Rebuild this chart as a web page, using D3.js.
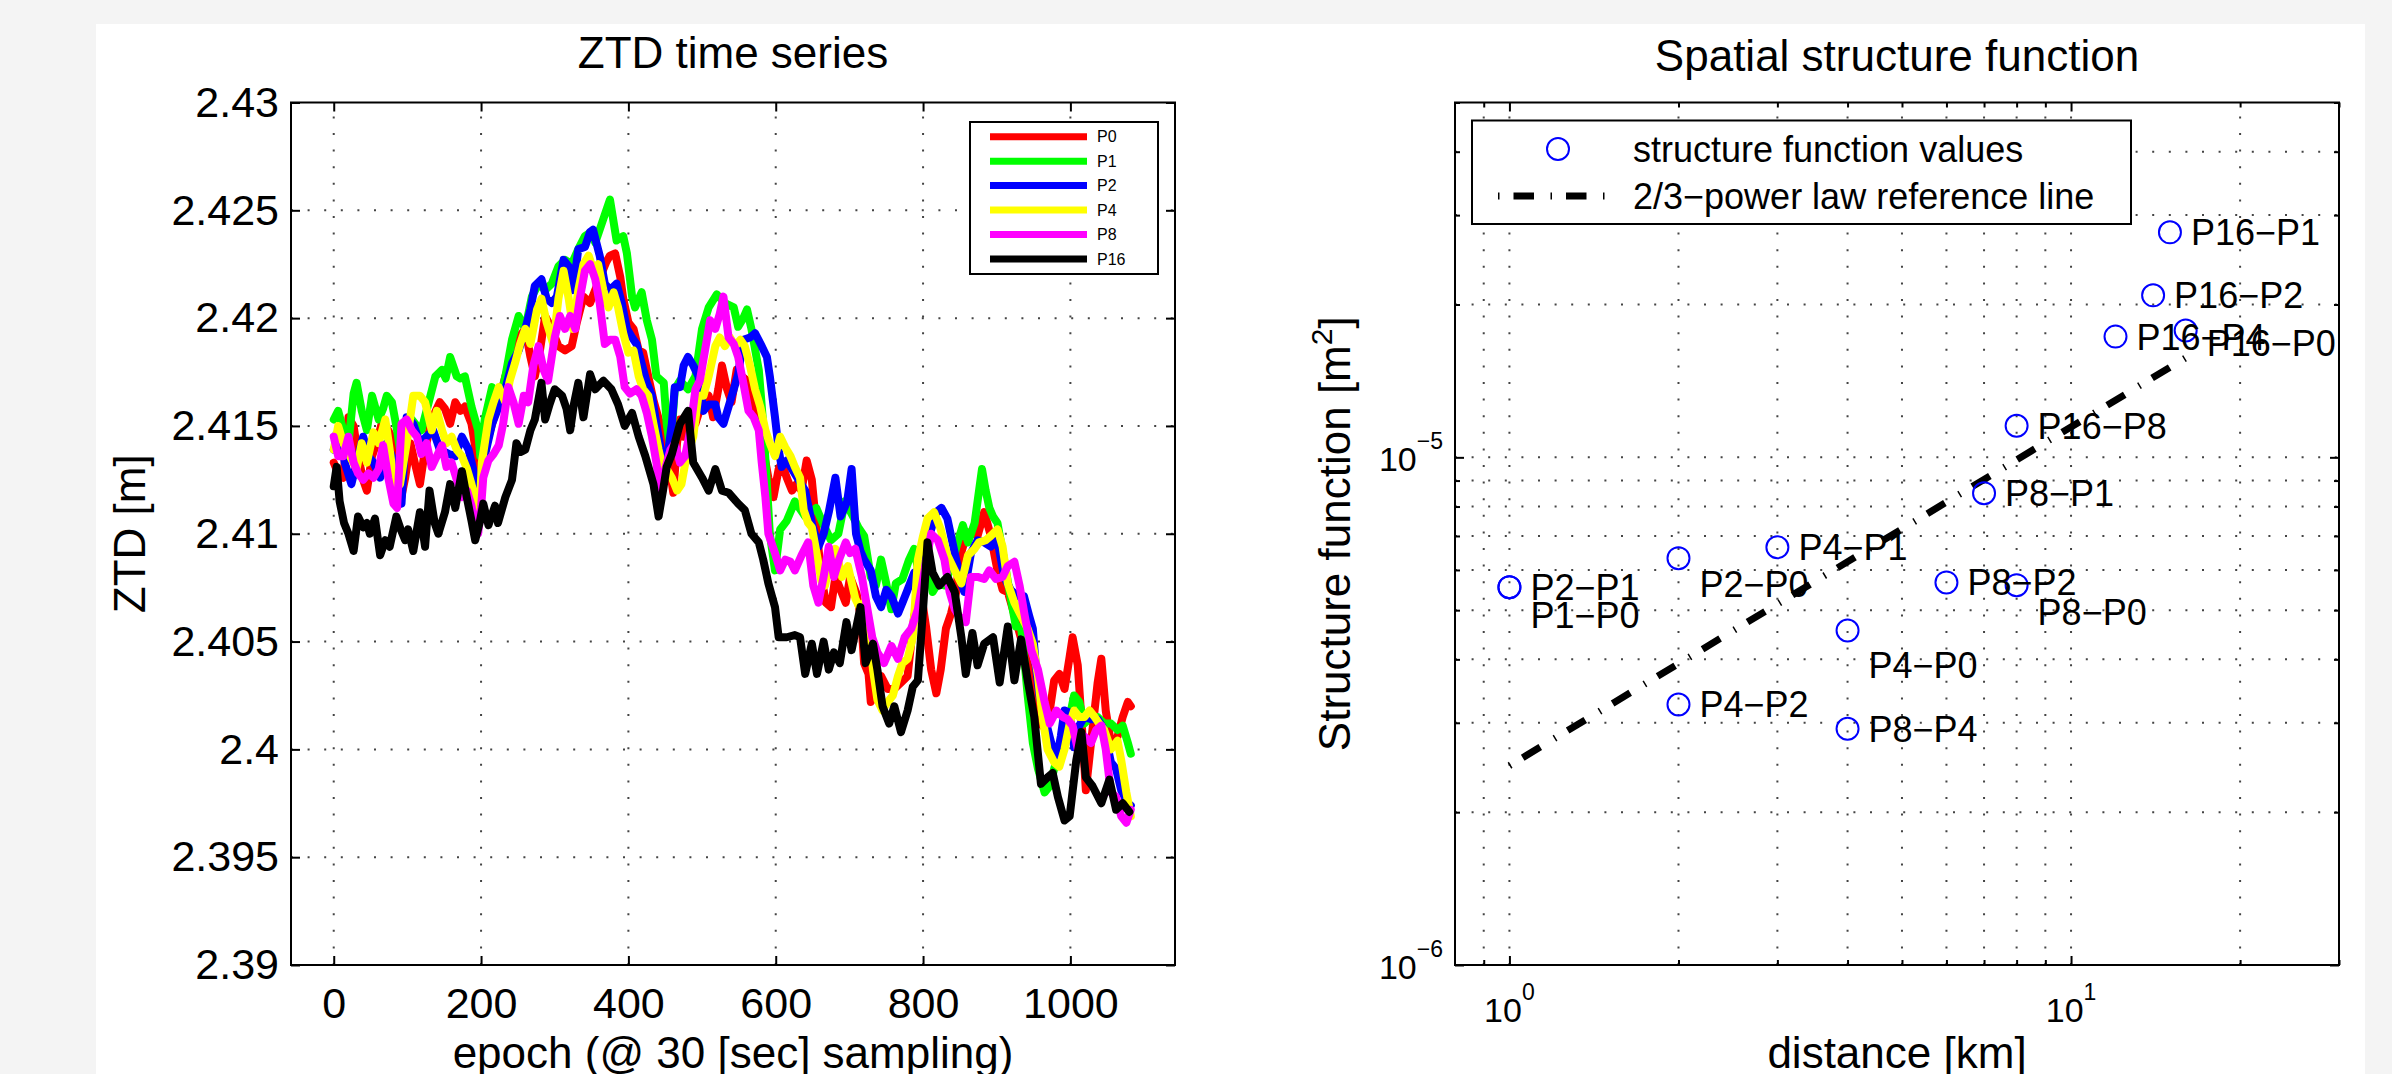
<!DOCTYPE html>
<html>
<head>
<meta charset="utf-8">
<style>
body, html {
	margin: 0;
	background: #f4f4f4;
}
svg { display: block; }
text { font-family: "Liberation Sans", Arial, Helvetica, sans-serif; fill: #000; }
</style>
</head>
<body>
<script src="https://cdn.jsdelivr.net/npm/d3@7"></script>
<script>

// ---------- data: ZTD time series, [epoch, ZTD m] ----------
const stations = ["P0", "P1", "P2", "P4", "P8", "P16"];
const stationColors = ["#ff0000", "#00ff00", "#0000ff", "#ffff00", "#ff00ff", "#000000"];

const ztdP0 = [[0,2.4133],[6,2.4128],[13,2.4126],[20,2.4154],[27,2.415],[33,2.4136],[40,2.4125],[45,2.412],[52,2.4136],[58,2.4142],[65,2.4151],[74,2.4148],[83,2.4142],[90,2.4114],[97,2.4126],[104,2.4142],[110,2.4133],[117,2.4123],[124,2.4139],[133,2.4153],[144,2.4161],[151,2.4158],[158,2.4151],[165,2.4161],[172,2.4157],[178,2.4159],[187,2.4151],[194,2.4136],[199,2.4128],[205,2.4139],[215,2.4151],[224,2.4161],[233,2.4173],[242,2.4182],[251,2.4191],[260,2.4195],[267,2.4182],[273,2.4173],[280,2.4185],[287,2.4201],[296,2.4195],[305,2.4187],[314,2.4185],[323,2.4187],[330,2.4198],[339,2.421],[348,2.4207],[355,2.4213],[364,2.4221],[370,2.4226],[375,2.4229],[382,2.423],[389,2.4219],[393,2.4209],[400,2.4198],[407,2.4195],[414,2.4185],[420,2.4184],[427,2.4173],[434,2.4162],[443,2.4151],[450,2.4147],[457,2.4128],[461,2.4119],[466,2.4142],[470,2.4153],[475,2.4145],[484,2.4153],[491,2.4151],[500,2.4161],[509,2.4164],[515,2.4154],[522,2.4167],[527,2.4178],[534,2.4167],[540,2.4161],[547,2.4176],[554,2.4173],[561,2.4171],[567,2.4164],[577,2.4151],[583,2.4139],[590,2.4126],[597,2.4117],[604,2.413],[608,2.4133],[615,2.4126],[622,2.412],[628,2.4123],[635,2.412],[642,2.4134],[649,2.4125],[656,2.41],[662,2.408],[668,2.4068],[675,2.4066],[681,2.408],[688,2.4074],[695,2.4068],[701,2.408],[710,2.4072],[716,2.406],[720,2.404],[726,2.4035],[729,2.4022],[736,2.4028],[743,2.4034],[752,2.4028],[761,2.4028],[770,2.4031],[779,2.4034],[788,2.4062],[797,2.4073],[804,2.4057],[811,2.4037],[818,2.4026],[824,2.4037],[831,2.4056],[838,2.4063],[845,2.4073],[849,2.4088],[856,2.4096],[865,2.4101],[874,2.4099],[883,2.411],[892,2.4099],[901,2.4083],[908,2.4074],[915,2.4073],[926,2.406],[935,2.4049],[944,2.4037],[953,2.4018],[962,2.4011],[972,2.4018],[978,2.4032],[985,2.4035],[992,2.4028],[999,2.4043],[1003,2.4052],[1010,2.4039],[1015,2.4014],[1021,2.3981],[1028,2.4003],[1037,2.4031],[1042,2.4042],[1048,2.4018],[1055,2.4003],[1064,2.4006],[1071,2.4015],[1078,2.4022],[1082,2.402]];

const ztdP1 = [[0,2.4153],[6,2.4157],[13,2.4148],[20,2.4142],[27,2.4165],[31,2.417],[38,2.4157],[45,2.4148],[52,2.4164],[61,2.4153],[67,2.4158],[72,2.4164],[79,2.4161],[86,2.4148],[90,2.4139],[98,2.4148],[106,2.4153],[113,2.415],[119,2.4148],[129,2.4161],[138,2.4173],[147,2.4176],[152,2.4172],[158,2.4182],[167,2.4173],[172,2.4172],[178,2.4173],[187,2.4159],[196,2.4148],[199,2.4136],[205,2.4153],[215,2.4168],[224,2.4159],[233,2.4173],[242,2.419],[251,2.4201],[260,2.4195],[269,2.421],[278,2.4216],[287,2.4213],[296,2.4216],[305,2.4224],[314,2.4227],[323,2.4225],[332,2.4232],[341,2.4238],[350,2.424],[355,2.4235],[364,2.4244],[370,2.425],[375,2.4255],[384,2.4236],[393,2.4238],[398,2.423],[405,2.421],[409,2.4205],[418,2.4212],[425,2.4199],[432,2.419],[438,2.4173],[448,2.417],[452,2.4151],[457,2.4139],[463,2.4167],[470,2.4171],[481,2.4167],[491,2.4173],[500,2.4195],[509,2.4205],[520,2.4211],[531,2.4207],[543,2.4205],[549,2.4196],[556,2.42],[561,2.4204],[567,2.4195],[577,2.4176],[583,2.4151],[588,2.4123],[592,2.41],[599,2.4083],[606,2.4102],[615,2.4106],[626,2.4115],[640,2.4108],[655,2.4112],[665,2.4104],[675,2.4097],[685,2.41],[694,2.4115],[705,2.4108],[712,2.4103],[720,2.4099],[729,2.408],[736,2.4076],[743,2.4088],[750,2.4077],[757,2.4065],[763,2.4077],[772,2.4079],[781,2.4088],[788,2.4093],[795,2.408],[802,2.4088],[808,2.4085],[813,2.4073],[820,2.4077],[829,2.4076],[838,2.4085],[847,2.4096],[854,2.4104],[861,2.4096],[870,2.4105],[876,2.412],[880,2.413],[885,2.412],[890,2.4112],[895,2.4108],[901,2.4105],[910,2.4088],[919,2.407],[926,2.4057],[933,2.4057],[938,2.404],[942,2.4025],[949,2.4003],[956,2.3991],[965,2.398],[972,2.3983],[978,2.3991],[985,2.4],[992,2.4009],[999,2.4015],[1005,2.4025],[1012,2.4022],[1019,2.4012],[1028,2.4015],[1037,2.4015],[1046,2.4012],[1055,2.4012],[1064,2.4009],[1071,2.4011],[1078,2.4003],[1082,2.3998]];

const ztdP2 = [[0,2.4139],[9,2.4145],[15,2.4133],[24,2.4123],[31,2.4133],[40,2.4145],[47,2.4136],[54,2.4133],[63,2.4126],[72,2.4142],[79,2.4136],[86,2.4123],[92,2.4114],[99,2.4154],[108,2.4151],[117,2.4142],[126,2.4145],[135,2.4148],[144,2.4139],[156,2.4137],[165,2.4136],[174,2.4145],[183,2.4139],[192,2.4126],[199,2.412],[205,2.4136],[215,2.4151],[224,2.4159],[233,2.4167],[242,2.4179],[251,2.4185],[260,2.4195],[267,2.4204],[273,2.4215],[282,2.4218],[289,2.4209],[296,2.4207],[303,2.421],[312,2.4227],[319,2.4224],[325,2.4213],[332,2.4232],[341,2.4233],[348,2.424],[352,2.4241],[361,2.4229],[368,2.4216],[375,2.4213],[384,2.4216],[391,2.4207],[398,2.4195],[405,2.4191],[411,2.4188],[418,2.4179],[425,2.417],[432,2.4164],[438,2.4151],[445,2.4137],[452,2.4133],[459,2.4151],[463,2.4168],[470,2.4168],[475,2.4178],[481,2.4182],[488,2.4178],[495,2.4173],[502,2.4157],[509,2.416],[518,2.416],[522,2.4154],[529,2.4151],[536,2.4159],[543,2.4167],[549,2.4174],[556,2.419],[565,2.4191],[572,2.4193],[581,2.4187],[588,2.4182],[592,2.4173],[599,2.4154],[604,2.4139],[608,2.4131],[615,2.4134],[622,2.413],[631,2.4125],[640,2.412],[649,2.4105],[658,2.4094],[665,2.41],[672,2.411],[681,2.4126],[688,2.4108],[697,2.4115],[703,2.413],[709,2.41],[715,2.4092],[720,2.4088],[729,2.4083],[736,2.4071],[743,2.4066],[750,2.4074],[757,2.4071],[766,2.4063],[772,2.4068],[779,2.4074],[788,2.4082],[795,2.4071],[802,2.4093],[811,2.4102],[818,2.411],[825,2.4112],[833,2.4107],[843,2.4091],[852,2.4077],[856,2.4073],[865,2.4091],[874,2.4097],[883,2.4096],[892,2.4094],[901,2.4097],[910,2.408],[919,2.4074],[928,2.4071],[937,2.4071],[944,2.4062],[949,2.4056],[953,2.4039],[958,2.4025],[965,2.4015],[974,2.4003],[981,2.3995],[987,2.4006],[992,2.4018],[999,2.4017],[1005,2.4001],[1012,2.4011],[1019,2.4015],[1028,2.4014],[1037,2.4014],[1046,2.4009],[1055,2.3994],[1062,2.3991],[1069,2.3981],[1078,2.3975],[1082,2.3974]];

const ztdP4 = [[0,2.4139],[6,2.415],[13,2.4142],[22,2.4136],[31,2.413],[38,2.4142],[45,2.4133],[54,2.4147],[61,2.4142],[70,2.4153],[76,2.4139],[83,2.412],[90,2.4123],[99,2.4142],[108,2.4164],[117,2.4164],[124,2.4161],[133,2.4148],[140,2.4157],[147,2.4148],[153,2.4142],[160,2.4145],[167,2.4139],[174,2.4136],[181,2.413],[187,2.4123],[194,2.4114],[198,2.411],[201,2.4133],[210,2.4153],[217,2.4161],[224,2.4168],[233,2.4161],[239,2.4171],[246,2.4179],[253,2.4188],[260,2.4195],[267,2.4188],[276,2.4204],[282,2.4209],[289,2.4198],[298,2.4188],[305,2.4209],[312,2.4222],[319,2.4209],[325,2.4195],[332,2.4213],[339,2.4225],[346,2.4229],[353,2.4222],[359,2.4225],[366,2.4213],[373,2.4205],[380,2.4212],[386,2.4205],[393,2.4193],[400,2.4184],[407,2.4185],[414,2.4173],[420,2.4167],[427,2.4164],[434,2.4151],[441,2.4139],[445,2.4133],[452,2.413],[459,2.4126],[466,2.412],[472,2.4123],[479,2.4136],[488,2.4145],[495,2.4164],[502,2.4164],[509,2.4173],[518,2.4187],[524,2.4191],[531,2.4187],[538,2.4191],[545,2.4187],[552,2.419],[558,2.4187],[565,2.4178],[572,2.4167],[579,2.4159],[586,2.4148],[592,2.4142],[599,2.4136],[606,2.4145],[613,2.414],[620,2.4136],[626,2.4131],[633,2.4126],[638,2.4111],[644,2.4105],[649,2.4103],[656,2.409],[662,2.4078],[667,2.4076],[674,2.4088],[681,2.4093],[690,2.408],[698,2.4085],[708,2.407],[715,2.4065],[720,2.4068],[727,2.4057],[732,2.4037],[738,2.4023],[745,2.4018],[752,2.4022],[759,2.4025],[766,2.4034],[772,2.404],[779,2.4042],[786,2.4052],[793,2.4088],[800,2.4099],[806,2.4107],[815,2.411],[824,2.4102],[833,2.409],[843,2.4083],[852,2.4077],[861,2.409],[870,2.4093],[876,2.4096],[885,2.4097],[892,2.4099],[901,2.4102],[908,2.4094],[915,2.4077],[924,2.4068],[933,2.4062],[942,2.4056],[949,2.4049],[956,2.4034],[962,2.4015],[969,2.4],[978,2.3994],[985,2.3992],[992,2.4],[999,2.4012],[1005,2.4018],[1012,2.4015],[1019,2.4015],[1026,2.4018],[1033,2.4015],[1039,2.4012],[1046,2.4009],[1055,2.4],[1064,2.4004],[1069,2.3995],[1076,2.398],[1082,2.3969]];

const ztdP8 = [[0,2.4145],[6,2.4136],[13,2.4136],[20,2.4145],[27,2.4133],[33,2.4128],[40,2.4125],[47,2.4128],[54,2.4126],[61,2.413],[67,2.4141],[74,2.4126],[81,2.4114],[86,2.4112],[92,2.4151],[99,2.4153],[106,2.4148],[113,2.4145],[119,2.4137],[126,2.4142],[133,2.4131],[140,2.4136],[147,2.4141],[153,2.4131],[160,2.4133],[167,2.4125],[174,2.4117],[181,2.412],[187,2.4113],[192,2.4104],[196,2.41],[200,2.4112],[203,2.4126],[210,2.4134],[217,2.4137],[224,2.4141],[230,2.4151],[237,2.4168],[244,2.4161],[251,2.4151],[258,2.4164],[264,2.4161],[271,2.4178],[278,2.4187],[285,2.4176],[291,2.4171],[300,2.4191],[307,2.4201],[314,2.4195],[321,2.4201],[328,2.4195],[334,2.4209],[341,2.4222],[348,2.4225],[355,2.4218],[361,2.4207],[368,2.4188],[375,2.419],[382,2.419],[389,2.4182],[395,2.4168],[402,2.4165],[411,2.4167],[418,2.4164],[425,2.4156],[432,2.4145],[438,2.4133],[443,2.412],[450,2.413],[457,2.4139],[463,2.4142],[470,2.4133],[477,2.4136],[484,2.4148],[491,2.4167],[497,2.4171],[504,2.4185],[511,2.4199],[518,2.4195],[524,2.4202],[529,2.421],[536,2.4191],[543,2.4188],[549,2.4182],[556,2.417],[563,2.4157],[570,2.4154],[577,2.4148],[581,2.4133],[586,2.4117],[590,2.41],[599,2.4091],[606,2.4083],[613,2.4088],[620,2.4087],[626,2.4083],[635,2.409],[644,2.4096],[651,2.4076],[658,2.4068],[665,2.408],[672,2.4094],[679,2.408],[686,2.4088],[695,2.4096],[701,2.4091],[708,2.4093],[717,2.408],[724,2.4066],[731,2.4052],[738,2.4045],[747,2.404],[757,2.4048],[766,2.4042],[775,2.4052],[784,2.4056],[793,2.4065],[802,2.4083],[811,2.41],[820,2.4097],[829,2.4088],[836,2.4073],[843,2.4065],[852,2.406],[858,2.4059],[865,2.408],[874,2.408],[883,2.4079],[890,2.4083],[899,2.4079],[908,2.408],[915,2.4085],[924,2.4087],[931,2.4076],[938,2.4062],[947,2.4046],[956,2.4037],[965,2.4022],[972,2.4012],[981,2.4018],[990,2.4015],[996,2.4014],[1003,2.4011],[1010,2.4],[1019,2.4006],[1028,2.4003],[1035,2.4009],[1042,2.4011],[1048,2.4],[1055,2.398],[1062,2.3978],[1069,2.3969],[1076,2.3966],[1082,2.3972]];

const ztdP16 = [[0,2.4122],[4,2.4131],[8,2.4115],[14,2.4105],[20,2.41],[27,2.4092],[33,2.4108],[40,2.4103],[45,2.4105],[49,2.41],[56,2.4107],[63,2.409],[70,2.4097],[76,2.4094],[85,2.4108],[91,2.4102],[97,2.4097],[101,2.4102],[108,2.4092],[117,2.411],[124,2.4094],[130,2.412],[137,2.4105],[142,2.41],[151,2.411],[158,2.4123],[165,2.4112],[174,2.4129],[180,2.4118],[187,2.4106],[192,2.4097],[198,2.4105],[203,2.4114],[210,2.4104],[219,2.4113],[223,2.4105],[233,2.4117],[242,2.4125],[248,2.4142],[254,2.4138],[260,2.4139],[267,2.4148],[273,2.4153],[282,2.417],[287,2.4153],[293,2.416],[300,2.4167],[310,2.4164],[316,2.4158],[321,2.4148],[326,2.416],[332,2.417],[339,2.4154],[348,2.4174],[355,2.4167],[366,2.4171],[377,2.4167],[386,2.416],[395,2.415],[405,2.4156],[414,2.4145],[423,2.4136],[434,2.4123],[441,2.4108],[447,2.412],[452,2.4131],[459,2.4137],[470,2.4151],[481,2.4157],[488,2.4133],[500,2.4126],[509,2.412],[518,2.413],[527,2.412],[536,2.4119],[549,2.4114],[558,2.4111],[567,2.41],[577,2.4096],[583,2.4088],[590,2.4077],[599,2.4066],[604,2.4052],[615,2.4052],[626,2.4053],[633,2.4052],[640,2.4035],[649,2.4049],[656,2.4035],[665,2.405],[672,2.4037],[679,2.4045],[687,2.404],[696,2.4059],[703,2.4046],[715,2.4066],[722,2.404],[732,2.4049],[738,2.4037],[745,2.402],[754,2.4012],[761,2.402],[770,2.4008],[779,2.4018],[786,2.4029],[793,2.4032],[800,2.4065],[806,2.4096],[813,2.4082],[822,2.4076],[833,2.408],[843,2.4073],[852,2.4052],[858,2.4035],[867,2.4054],[874,2.4039],[883,2.4049],[895,2.4052],[904,2.4031],[915,2.4057],[924,2.4032],[933,2.4051],[942,2.4032],[951,2.4015],[960,2.3984],[969,2.3987],[976,2.3989],[983,2.3978],[992,2.3967],[999,2.3969],[1008,2.3995],[1015,2.4008],[1021,2.3987],[1030,2.3983],[1042,2.3975],[1053,2.3986],[1062,2.3972],[1071,2.3975],[1080,2.3971]];

const ztdSeries = [ztdP0, ztdP1, ztdP2, ztdP4, ztdP8, ztdP16];

const epochTicks = [0, 200, 400, 600, 800, 1000];
const ztdTicks = [2.39, 2.395, 2.4, 2.405, 2.41, 2.415, 2.42, 2.425, 2.43];
const ztdTickLabels = ["2.39", "2.395", "2.4", "2.405", "2.41", "2.415", "2.42", "2.425", "2.43"];

// ---------- data: spatial structure function ----------
const pairLabels = ["P1\u2212P0", "P2\u2212P0", "P2\u2212P1", "P4\u2212P0", "P4\u2212P1", "P4\u2212P2", "P8\u2212P0", "P8\u2212P1", "P8\u2212P2", "P8\u2212P4", "P16\u2212P0", "P16\u2212P1", "P16\u2212P2", "P16\u2212P4", "P16\u2212P8"];
const pairDistance = [1, 2, 1, 4, 3, 2, 8, 7, 6, 4, 16, 15, 14, 12, 8];
const pairSF = [5.55e-6, 6.33e-6, 5.55e-6, 4.56e-6, 6.65e-6, 3.26e-6, 5.6e-6, 8.5e-6, 5.67e-6, 2.92e-6, 1.778e-5, 2.775e-5, 2.085e-5, 1.729e-5, 1.154e-5];
const refDistance = [1, 16];
const refSF = [2.47e-6, 1.57e-5];

const distMajor = [1, 10];
const distMinor = [0.9, 2, 3, 4, 5, 6, 7, 8, 9, 20, 30];
const sfMajor = [1e-6, 1e-5];
const sfMinor = [2e-6, 3e-6, 4e-6, 5e-6, 6e-6, 7e-6, 8e-6, 9e-6, 2e-5, 3e-5, 4e-5, 5e-5];

// ---------- layout ----------
const W = 2392, H = 1074;
const L = {x0: 291, x1: 1175, y0: 102.5, y1: 965};
const R = {x0: 1455, x1: 2339, y0: 102.5, y1: 965};
const TICK = 9;
const LINE_W = 8;
const GRID_DASH = "2,14.6";
const GRID_COLOR = "#444";

const svg = d3.select("body").append("svg").attr("width", W).attr("height", H);
svg.append("rect").attr("width", W).attr("height", H).attr("fill", "#f4f4f4");
svg.append("rect").attr("x", 96).attr("y", 24).attr("width", 2269).attr("height", H - 24).attr("fill", "#fff");

const xL = d3.scaleLinear().domain([-58, 1142]).range([L.x0, L.x1]);
const yL = d3.scaleLinear().domain([2.39, 2.43]).range([L.y1, L.y0]);
const xR = d3.scaleLog().domain([0.8, 30]).range([R.x0, R.x1]);
const yR = d3.scaleLog().domain([1e-6, 5e-5]).range([R.y1, R.y0]);

function grid(g, box, xs, xVals, ys, yVals) {
	g.selectAll(null).data(xVals).enter().append("line")
		.attr("x1", d => xs(d)).attr("x2", d => xs(d))
		.attr("y1", box.y1).attr("y2", box.y0);
	g.selectAll(null).data(yVals).enter().append("line")
		.attr("x1", box.x0).attr("x2", box.x1)
		.attr("y1", d => ys(d)).attr("y2", d => ys(d));
	g.selectAll("line")
		.attr("stroke", GRID_COLOR).attr("stroke-width", 2)
		.attr("stroke-dasharray", GRID_DASH);
}

function styleAxis(g) {
	g.select(".domain").remove();
	g.selectAll(".tick line").attr("stroke", "#000").attr("stroke-width", 2);
	g.selectAll("text").attr("font-size", 43).attr("fill", "#000")
		.attr("font-family", "Liberation Sans, Arial, sans-serif");
}

function box(b) {
	svg.append("rect").attr("x", b.x0).attr("y", b.y0)
		.attr("width", b.x1 - b.x0).attr("height", b.y1 - b.y0)
		.attr("fill", "none").attr("stroke", "#000").attr("stroke-width", 2);
}

// ================= left: ZTD time series =================
const gl = svg.append("g");
grid(gl.append("g"), L, xL, epochTicks, yL, ztdTicks.slice(1, -1));

svg.append("clipPath").attr("id", "clipL").append("rect")
	.attr("x", L.x0).attr("y", L.y0).attr("width", L.x1 - L.x0).attr("height", L.y1 - L.y0);

const line = d3.line().x(d => xL(d[0])).y(d => yL(d[1]));
svg.append("g").attr("clip-path", "url(#clipL)")
	.selectAll("path").data(ztdSeries).enter().append("path")
	.attr("d", line)
	.attr("fill", "none")
	.attr("stroke", (d, i) => stationColors[i])
	.attr("stroke-width", LINE_W)
	.attr("stroke-linejoin", "round")
	.attr("stroke-linecap", "round");

svg.append("g").attr("transform", `translate(0,${L.y1})`)
	.call(d3.axisBottom(xL).tickValues(epochTicks).tickSizeInner(-TICK).tickSizeOuter(0).tickPadding(22).tickFormat(d3.format("d")))
	.call(styleAxis);
svg.append("g").attr("transform", `translate(0,${L.y0})`)
	.call(d3.axisTop(xL).tickValues(epochTicks).tickSizeInner(-TICK).tickSizeOuter(0).tickFormat(""))
	.call(styleAxis);
svg.append("g").attr("transform", `translate(${L.x0},0)`)
	.call(d3.axisLeft(yL).tickValues(ztdTicks).tickSizeInner(-TICK).tickSizeOuter(0).tickPadding(12).tickFormat((d, i) => ztdTickLabels[i]))
	.call(styleAxis);
svg.append("g").attr("transform", `translate(${L.x1},0)`)
	.call(d3.axisRight(yL).tickValues(ztdTicks).tickSizeInner(-TICK).tickSizeOuter(0).tickFormat(""))
	.call(styleAxis);
box(L);

svg.append("text").attr("x", (L.x0 + L.x1) / 2).attr("y", 68)
	.attr("text-anchor", "middle").attr("font-size", 44).text("ZTD time series");
svg.append("text").attr("x", (L.x0 + L.x1) / 2).attr("y", 1068)
	.attr("text-anchor", "middle").attr("font-size", 44).text("epoch (@ 30 [sec] sampling)");
svg.append("text").attr("transform", `translate(145,${(L.y0 + L.y1) / 2}) rotate(-90)`)
	.attr("text-anchor", "middle").attr("font-size", 44).text("ZTD [m]");

// legend (left)
const lg = svg.append("g");
lg.append("rect").attr("x", 970).attr("y", 122).attr("width", 188).attr("height", 152)
	.attr("fill", "#fff").attr("stroke", "#000").attr("stroke-width", 2);
stations.forEach((s, i) => {
	const yy = 136.7 + i * 24.45;
	lg.append("line").attr("x1", 990).attr("x2", 1087).attr("y1", yy).attr("y2", yy)
		.attr("stroke", stationColors[i]).attr("stroke-width", 7);
	lg.append("text").attr("x", 1097).attr("y", yy).attr("dy", "0.36em")
		.attr("font-size", 16).text(s);
});

// ================= right: spatial structure function =================
const gr = svg.append("g");
grid(gr.append("g"), R, xR, distMajor.concat(distMinor.slice(0, -1)), yR, sfMajor.slice(1).concat(sfMinor.slice(0, -1)));

function logTicks(axisFn, scale, vals, size) {
	return axisFn(scale).tickValues(vals).tickSizeInner(-size).tickSizeOuter(0).tickFormat("");
}
[[d3.axisBottom, R.y1], [d3.axisTop, R.y0]].forEach(([fn, yy]) => {
	svg.append("g").attr("transform", `translate(0,${yy})`).call(logTicks(fn, xR, distMajor, TICK)).call(styleAxis);
	svg.append("g").attr("transform", `translate(0,${yy})`).call(logTicks(fn, xR, distMinor, 5)).call(styleAxis);
});
[[d3.axisLeft, R.x0], [d3.axisRight, R.x1]].forEach(([fn, xx]) => {
	svg.append("g").attr("transform", `translate(${xx},0)`).call(logTicks(fn, yR, sfMajor, TICK)).call(styleAxis);
	svg.append("g").attr("transform", `translate(${xx},0)`).call(logTicks(fn, yR, sfMinor, 5)).call(styleAxis);
});

// power-of-ten tick labels
distMajor.forEach(d => {
	const t = svg.append("text").attr("x", xR(d)).attr("y", 1022)
		.attr("text-anchor", "middle").attr("font-size", 34);
	t.append("tspan").text("10");
	t.append("tspan").attr("font-size", 23).attr("dy", -22).text(String(Math.round(Math.log10(d))));
});
sfMajor.forEach(d => {
	const t = svg.append("text").attr("x", R.x0 - 12).attr("y", yR(d) + 14)
		.attr("text-anchor", "end").attr("font-size", 34);
	t.append("tspan").text("10");
	t.append("tspan").attr("font-size", 23).attr("dy", -22).text("\u2212" + Math.round(-Math.log10(d)));
});

// reference line
svg.append("line")
	.attr("x1", xR(refDistance[0])).attr("y1", yR(refSF[0]))
	.attr("x2", xR(refDistance[1])).attr("y2", yR(refSF[1]))
	.attr("stroke", "#000").attr("stroke-width", 7)
	.attr("stroke-dasharray", "1.5,14,20.5,16.5");

// points and labels
const labelShift = {"P1\u2212P0": 28, "P2\u2212P0": 26, "P4\u2212P0": 35, "P8\u2212P0": 27, "P16\u2212P0": 13};
svg.append("g").selectAll("circle").data(pairLabels).enter().append("circle")
	.attr("cx", (d, i) => xR(pairDistance[i])).attr("cy", (d, i) => yR(pairSF[i]))
	.attr("r", 11).attr("fill", "none").attr("stroke", "#0000ff").attr("stroke-width", 2);
svg.append("g").selectAll("text").data(pairLabels).enter().append("text")
	.attr("x", (d, i) => xR(pairDistance[i]) + 21)
	.attr("y", (d, i) => yR(pairSF[i]) + (labelShift[d] || 0))
	.attr("dy", "0.36em").attr("font-size", 36).text(d => d);

box(R);

svg.append("text").attr("x", (R.x0 + R.x1) / 2).attr("y", 71)
	.attr("text-anchor", "middle").attr("font-size", 44).text("Spatial structure function");
svg.append("text").attr("x", (R.x0 + R.x1) / 2).attr("y", 1068)
	.attr("text-anchor", "middle").attr("font-size", 44).text("distance [km]");
const yl = svg.append("text").attr("transform", `translate(1350,${(R.y0 + R.y1) / 2}) rotate(-90)`)
	.attr("text-anchor", "middle").attr("font-size", 44);
yl.append("tspan").text("Structure function [m");
yl.append("tspan").attr("font-size", 30).attr("dy", -18).text("2");
yl.append("tspan").attr("dy", 18).text("]");

// legend (right)
const rg = svg.append("g");
rg.append("rect").attr("x", 1472).attr("y", 120.5).attr("width", 659).attr("height", 103.5)
	.attr("fill", "#fff").attr("stroke", "#000").attr("stroke-width", 2);
rg.append("circle").attr("cx", 1558).attr("cy", 149).attr("r", 11)
	.attr("fill", "none").attr("stroke", "#0000ff").attr("stroke-width", 2);
rg.append("text").attr("x", 1633).attr("y", 149).attr("dy", "0.36em").attr("font-size", 36)
	.text("structure function values");
rg.append("line").attr("x1", 1498).attr("x2", 1605).attr("y1", 196).attr("y2", 196)
	.attr("stroke", "#000").attr("stroke-width", 7).attr("stroke-dasharray", "1.5,14,20.5,16.5");
rg.append("text").attr("x", 1633).attr("y", 196).attr("dy", "0.36em").attr("font-size", 36)
	.text("2/3\u2212power law reference line");

</script>
</body>
</html>
